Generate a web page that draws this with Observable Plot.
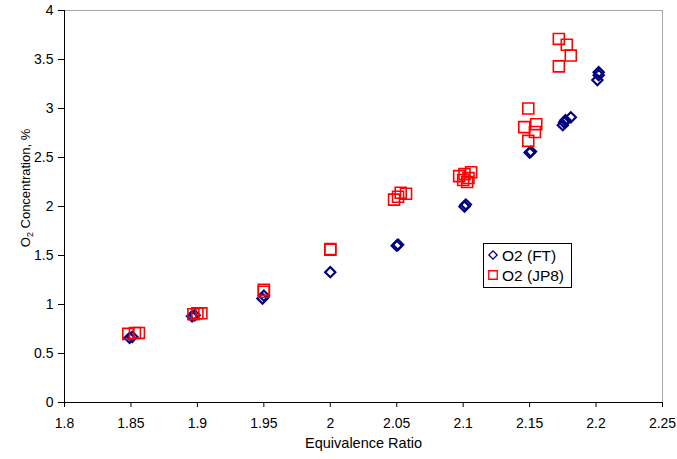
<!DOCTYPE html>
<html>
<head>
<meta charset="utf-8">
<script src="https://cdn.jsdelivr.net/npm/d3@7"></script>
<script src="https://cdn.jsdelivr.net/npm/@observablehq/plot@0.6"></script>
<style>
  html, body { margin: 0; padding: 0; background: #ffffff; }
  svg { display: block; }
</style>
</head>
<body>
<div id="chart"></div>
<script>
// ---- data ----
const ftX = [1.849, 1.851, 1.896, 1.898, 1.949, 1.950, 2.000, 2.050, 2.051, 2.101, 2.102, 2.150, 2.151, 2.175, 2.176, 2.177, 2.181, 2.201, 2.202, 2.202];
const ftY = [0.66, 0.67, 0.88, 0.89, 1.06, 1.09, 1.33, 1.60, 1.61, 2.00, 2.02, 2.55, 2.56, 2.83, 2.86, 2.88, 2.91, 3.29, 3.34, 3.37];

const jpX = [1.848, 1.853, 1.856, 1.897, 1.900, 1.903, 1.950, 1.950, 2.000, 2.000, 2.048, 2.051, 2.053, 2.057, 2.097, 2.100, 2.101, 2.103, 2.104, 2.106, 2.146, 2.149, 2.149, 2.154, 2.155, 2.172, 2.172, 2.178, 2.181];
const jpY = [0.70, 0.71, 0.71, 0.90, 0.91, 0.91, 1.13, 1.15, 1.56, 1.565, 2.07, 2.10, 2.14, 2.13, 2.31, 2.27, 2.33, 2.25, 2.29, 2.35, 2.81, 3.00, 2.67, 2.76, 2.84, 3.71, 3.43, 3.65, 3.54];

const seriesNames = ["O2 (FT)", "O2 (JP8)"];

const xTicks = [1.8, 1.85, 1.9, 1.95, 2.0, 2.05, 2.1, 2.15, 2.2, 2.25];
const xTickLabels = ["1.8", "1.85", "1.9", "1.95", "2", "2.05", "2.1", "2.15", "2.2", "2.25"];
const yTicks = [0, 0.5, 1, 1.5, 2, 2.5, 3, 3.5, 4];
const yTickLabels = ["0", "0.5", "1", "1.5", "2", "2.5", "3", "3.5", "4"];

const xTitle = "Equivalence Ratio";
const yTitleParts = ["O", "2", " Concentration, %"];

// ---- build tables ----
const ft = ftX.map((x, i) => ({x, y: ftY[i]}));
const jp = jpX.map((x, i) => ({x, y: jpY[i]}));
const xLab = new Map(xTicks.map((t, i) => [t, xTickLabels[i]]));
const yLab = new Map(yTicks.map((t, i) => [t, yTickLabels[i]]));

const FT_COLOR = "#000080";
const JP_COLOR = "#ff0000";
const FONT = "'Liberation Sans', Arial, sans-serif";

const chart = Plot.plot({
  width: 677,
  height: 459,
  marginLeft: 64,
  marginRight: 15,
  marginTop: 10,
  marginBottom: 57,
  style: {fontFamily: FONT, fontSize: "14px", background: "#ffffff", color: "#000000"},
  x: {domain: [1.8, 2.25]},
  y: {domain: [0, 4]},
  marks: [
    Plot.ruleY([4], {stroke: "#a6a6a6", strokeWidth: 1}),
    Plot.ruleX([2.25], {stroke: "#a6a6a6", strokeWidth: 1}),
    Plot.axisX({ticks: xTicks, tickFormat: d => xLab.get(d), tickSize: 5, tickPadding: 11, label: null, stroke: "#000"}),
    Plot.axisY({ticks: yTicks, tickFormat: d => yLab.get(d), tickSize: 6, tickPadding: 5, label: null, stroke: "#000"}),
    Plot.ruleX([1.8], {stroke: "#000", strokeWidth: 1}),
    Plot.ruleY([0], {stroke: "#000", strokeWidth: 1}),
    Plot.text([xTitle], {frameAnchor: "bottom", dy: 45, fontSize: 14.5, fill: "#000"}),
    Plot.dot(ft, {x: "x", y: "y", symbol: "diamond2", r: 4.6, stroke: FT_COLOR, strokeWidth: 2.2, fill: "none"}),
    Plot.dot(jp, {x: "x", y: "y", symbol: "square", r: 6.2, stroke: JP_COLOR, strokeWidth: 1.6, fill: "none"})
  ]
});

document.getElementById("chart").appendChild(chart);

// ---- y-axis title with subscript ----
const svg = d3.select(chart);
const yt = svg.append("text")
  .attr("transform", "translate(30,188) rotate(-90)")
  .attr("text-anchor", "middle")
  .attr("font-family", FONT)
  .attr("font-size", 13)
  .attr("fill", "#000");
yt.append("tspan").text(yTitleParts[0]);
yt.append("tspan").attr("font-size", 9).attr("dy", 3).text(yTitleParts[1]);
yt.append("tspan").attr("dy", -3).text(yTitleParts[2]);

// ---- legend box ----
const lg = svg.append("g").attr("font-family", FONT).attr("font-size", 15.5).attr("text-anchor", "start");
lg.append("rect").attr("x", 483.5).attr("y", 243.5).attr("width", 88).attr("height", 44)
  .attr("fill", "#ffffff").attr("stroke", "#000").attr("stroke-width", 1);
lg.append("path")
  .attr("d", d3.symbol(d3.symbolDiamond2, 44)())
  .attr("transform", "translate(493,255)")
  .attr("fill", "none").attr("stroke", FT_COLOR).attr("stroke-width", 1.3);
lg.append("path")
  .attr("d", d3.symbol(d3.symbolSquare, 72)())
  .attr("transform", "translate(493,275)")
  .attr("fill", "none").attr("stroke", JP_COLOR).attr("stroke-width", 1.3);
lg.append("text").attr("x", 502).attr("y", 260.5).attr("text-anchor", "start").attr("fill", "#000").text(seriesNames[0]);
lg.append("text").attr("x", 502).attr("y", 280.5).attr("text-anchor", "start").attr("fill", "#000").text(seriesNames[1]);
</script>
</body>
</html>
